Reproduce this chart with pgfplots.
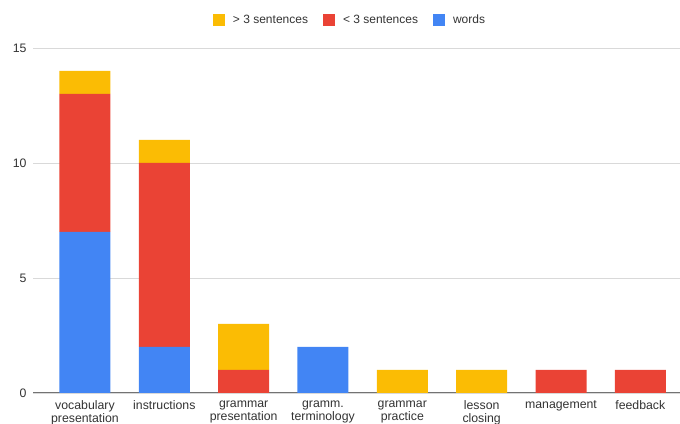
\documentclass[border=0pt]{standalone}
\usepackage{pgfplots}
\pgfplotsset{compat=1.18}
\usepackage{fontspec}
\setmainfont{Liberation Sans}
\definecolor{cblue}{HTML}{4285F4}
\definecolor{cred}{HTML}{EA4335}
\definecolor{cyellow}{HTML}{FBBC04}
\definecolor{ctext}{HTML}{333333}
\begin{document}
\begin{tikzpicture}[x=1pt,y=1pt]
\useasboundingbox (0,0) rectangle (680,423);
\begin{axis}[
  at={(33pt,30pt)}, anchor=south west,
  scale only axis, width=647pt, height=345pt,
  ybar stacked, bar width=51pt,
  xmin=-0.655, xmax=7.5, ymin=0, ymax=15,
  ytick={0,5,10,15},
  xtick={0,1,2,3,4,5,6,7},
  xticklabels={vocabulary\\presentation, instructions, grammar\\presentation, gramm.\\terminology, grammar\\practice, lesson\\closing, management, feedback},
  xticklabel style={align=center, anchor=north, font=\fontsize{12.3}{13}\selectfont, text=ctext, yshift=-4pt},
  yticklabel style={font=\fontsize{12.3}{13}\selectfont, text=ctext, xshift=-3pt},
  /pgf/number format/assume math mode=true,
  major tick length=0pt,
  axis x line*=bottom, axis y line*=left,
  x axis line style={draw=black!55, line width=1pt},
  y axis line style={draw=none},
  ymajorgrids, grid style={draw=black!15, line width=0.9pt},
  legend style={at={(0.49,1)}, anchor=center, yshift=28pt, draw=none, fill=none,
    legend columns=3, font=\fontsize{12}{13}\selectfont, text=ctext,
    /tikz/every even column/.append style={column sep=13pt}},
  legend cell align=left,
  legend image code/.code={\fill[#1] (0pt,-6pt) rectangle (12pt,6pt); \path (18pt,0pt);},
  reverse legend,
]
\addplot[fill=cblue, draw=none] coordinates {(0,7) (1,2) (2,0) (3,2) (4,0) (5,0) (6,0) (7,0)};
\addlegendentry{words}
\addplot[fill=cred, draw=none] coordinates {(0,6) (1,8) (2,1) (3,0) (4,0) (5,0) (6,1) (7,1)};
\addlegendentry{< 3 sentences}
\addplot[fill=cyellow, draw=none] coordinates {(0,1) (1,1) (2,2) (3,0) (4,1) (5,1) (6,0) (7,0)};
\addlegendentry{> 3 sentences}
\end{axis}
\end{tikzpicture}
\end{document}
